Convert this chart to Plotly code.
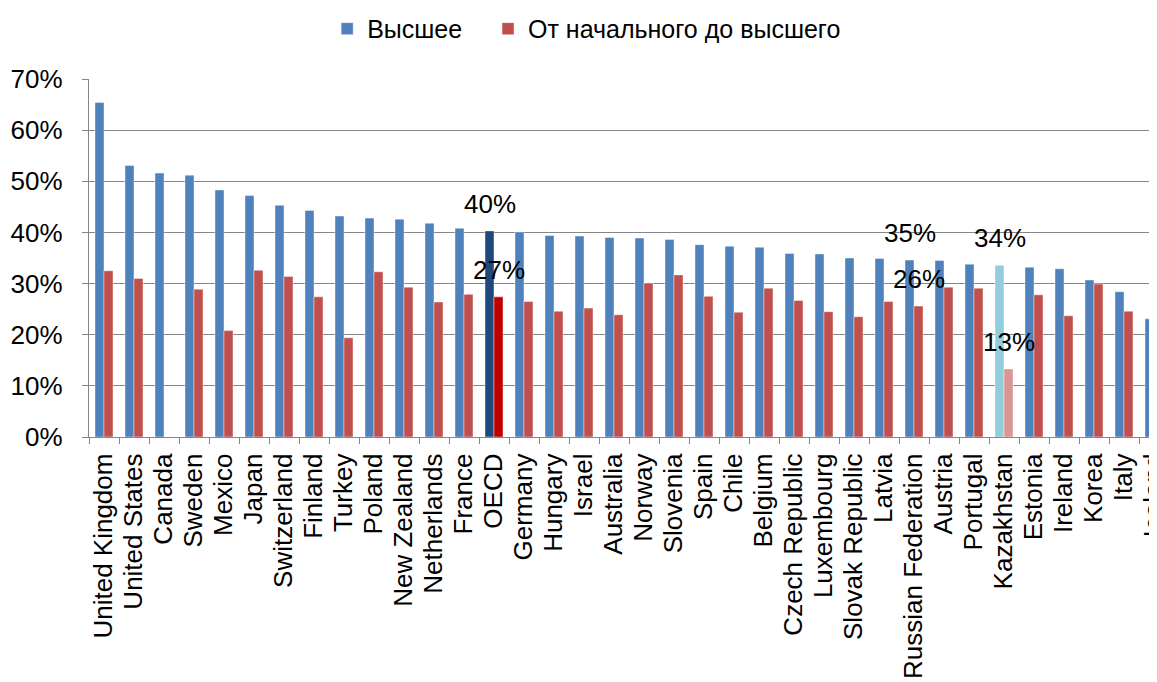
import plotly.graph_objects as go

countries = ["United Kingdom", "United States", "Canada", "Sweden", "Mexico", "Japan",
             "Switzerland", "Finland", "Turkey", "Poland", "New Zealand", "Netherlands",
             "France", "OECD", "Germany", "Hungary", "Israel", "Australia", "Norway",
             "Slovenia", "Spain", "Chile", "Belgium", "Czech Republic", "Luxembourg",
             "Slovak Republic", "Latvia", "Russian Federation", "Austria", "Portugal",
             "Kazakhstan", "Estonia", "Ireland", "Korea", "Italy", "Iceland"]

higher = [0.654, 0.531, 0.516, 0.512, 0.483, 0.472, 0.453, 0.443, 0.432, 0.428, 0.426,
          0.418, 0.408, 0.403, 0.401, 0.394, 0.393, 0.390, 0.389, 0.386, 0.376, 0.373,
          0.371, 0.359, 0.358, 0.350, 0.349, 0.346, 0.345, 0.338, 0.336, 0.332, 0.329,
          0.307, 0.284, 0.231]

primary_to_higher = [0.325, 0.310, None, 0.289, 0.208, 0.326, 0.314, 0.274, 0.194, 0.323,
                     0.293, 0.264, 0.279, 0.274, 0.265, 0.246, 0.252, 0.239, 0.301, 0.317,
                     0.275, 0.244, 0.291, 0.267, 0.245, 0.235, 0.265, 0.256, 0.293, 0.291,
                     0.133, 0.278, 0.237, 0.299, 0.246, 0.254]

series_names = ["Высшее", "От начального до высшего"]
labelled = ["OECD", "Russian Federation", "Kazakhstan"]
y_ticks = [0, 0.1, 0.2, 0.3, 0.4, 0.5, 0.6, 0.7]
y_tick_text = ["0%", "10%", "20%", "30%", "40%", "50%", "60%", "70%"]

BLUE, RED = "#4F81BD", "#C0504D"
special_blue = {"OECD": "#1F497D", "Kazakhstan": "#92CDDC"}
special_red = {"OECD": "#C00000", "Kazakhstan": "#D99694"}

blue_colors = [special_blue.get(c, BLUE) for c in countries]
red_colors = [special_red.get(c, RED) for c in countries]

FONT = "Arial, 'Liberation Sans', sans-serif"
NBSP = "\u00a0"

fig = go.Figure()
fig.add_trace(go.Bar(name=series_names[0] + NBSP * 3, x=countries, y=higher,
                     marker=dict(color=blue_colors, line=dict(width=0.6, color="rgba(255,255,255,0.7)"))))
fig.add_trace(go.Bar(name=series_names[1], x=countries, y=primary_to_higher,
                     marker=dict(color=red_colors, line=dict(width=0.6, color="rgba(255,255,255,0.7)"))))

for c in labelled:
    i = countries.index(c)
    fig.add_annotation(x=c, y=higher[i], text=f"{round(higher[i]*100)}%",
                       showarrow=False, yanchor="bottom", xshift=-4.5, yshift=10,
                       font=dict(size=26, color="black", family=FONT))
    fig.add_annotation(x=c, y=primary_to_higher[i], text=f"{round(primary_to_higher[i]*100)}%",
                       showarrow=False, yanchor="bottom", xshift=4.5, yshift=10,
                       font=dict(size=26, color="black", family=FONT))

fig.update_layout(
    width=1149, height=674,
    margin=dict(l=81, r=0, t=71, b=245, autoexpand=False),
    paper_bgcolor="white", plot_bgcolor="white",
    barmode="group", bargap=0.4, bargroupgap=0,
    font=dict(family=FONT, color="black"),
    legend=dict(orientation="h", x=0.223, y=1.14, xanchor="left", yanchor="middle",
                font=dict(size=25, family=FONT), itemwidth=30, traceorder="normal"),
    showlegend=True,
)
fig.update_xaxes(type="category", range=[-0.5, 35.1], tickangle=-90,
                 tickmode="array", tickvals=countries, ticktext=countries,
                 tickfont=dict(size=26, family=FONT, color="black"),
                 showline=True, linecolor="#868686", linewidth=1.3,
                 ticks="outside", tickson="boundaries", ticklen=6, tickcolor="#868686",
                 ticklabelstandoff=5,
                 showgrid=False, automargin=False)
fig.update_yaxes(range=[0, 0.7], tickvals=y_ticks, ticktext=y_tick_text,
                 tickfont=dict(size=26, family=FONT, color="black"),
                 showgrid=True, gridcolor="#868686", gridwidth=1.3,
                 showline=True, linecolor="#868686", linewidth=1.3,
                 ticks="outside", ticklen=6, tickcolor="#868686",
                 ticklabelstandoff=14, zeroline=False, automargin=False)

fig.write_html("out.html")
